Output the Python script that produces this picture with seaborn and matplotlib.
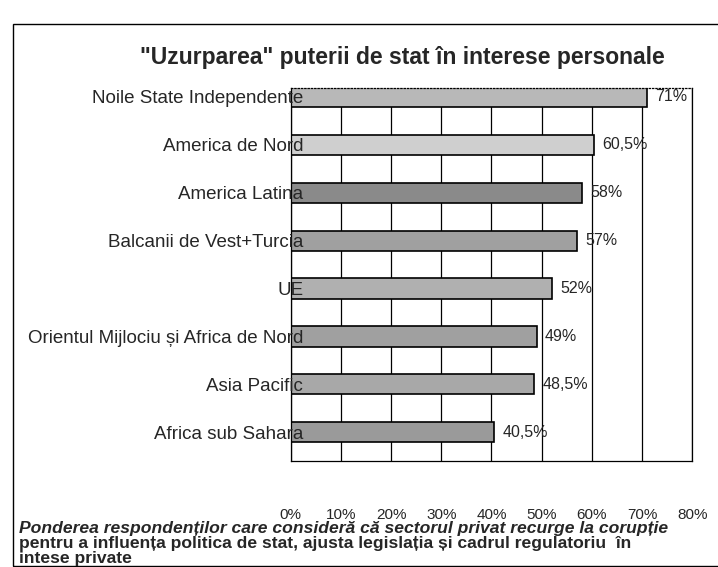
import numpy as np
import pandas as pd
import matplotlib.pyplot as plt
import matplotlib.patches as patches
from matplotlib.ticker import FuncFormatter
import seaborn as sns

regions = ['Noile State Independente', 'America de Nord', 'America Latina',
           'Balcanii de Vest+Turcia', 'UE', 'Orientul Mijlociu și Africa de Nord',
           'Asia Pacific', 'Africa sub Sahara']
values = [71, 60.5, 58, 57, 52, 49, 48.5, 40.5]
value_labels = ['71%', '60,5%', '58%', '57%', '52%', '49%', '48,5%', '40,5%']
x_ticks = [0, 10, 20, 30, 40, 50, 60, 70, 80]

title = '"Uzurparea" puterii de stat în interese personale'
note_lines = ['Ponderea respondenților care consideră că sectorul privat recurge la corupție',
              'pentru a influența politica de stat, ajusta legislația și cadrul regulatoriu  în',
              'intese private']

bar_colors = ['#b8b8b8', '#cfcfcf', '#8a8a8a', '#a0a0a0', '#b0b0b0', '#a0a0a0', '#a8a8a8', '#9a9a9a']

sns.set_style('white')
plt.rcParams['font.family'] = ['Liberation Sans', 'DejaVu Sans']

mydf = pd.DataFrame({'Region': regions, 'Value': values})

fig = plt.figure(figsize=(7.18, 5.67), dpi=100)
ax = fig.add_axes([0.405, 0.187, 0.559, 0.658])

sns.barplot(ax=ax, data=mydf, y='Region', x='Value', hue='Region', palette=bar_colors,
            legend=False, orient='h', width=0.42, edgecolor='black', linewidth=1.2,
            saturation=1)

ax.set_xlim(0, 80)
ax.set_ylim(7.6, -0.19)
ax.set_xticks(x_ticks)
ax.xaxis.set_major_formatter(FuncFormatter(lambda v, p: '%d%%' % v))
ax.grid(axis='x', color='black', linewidth=0.9)
ax.set_axisbelow(True)
ax.yaxis.set_zorder(4)
ax.set_xlabel('')
ax.set_ylabel('')
ax.tick_params(axis='x', which='major', direction='out', length=6, width=0.8,
               color='black', pad=28, labelsize=11)
ax.tick_params(axis='y', length=0, pad=-9, labelsize=13.5)
for s in ax.spines.values():
    s.set_color('black')
    s.set_linewidth(0.9)
ax.spines['top'].set_linestyle(':')

for i, (v, t) in enumerate(zip(values, value_labels)):
    ax.annotate(t, xy=(v, i), xytext=(6, 0), textcoords='offset points',
                va='center', ha='left', fontsize=11.5)

fig.text(0.56, 0.898, title, ha='center', va='center', fontsize=16.5, fontweight='bold')

# footnote, first line slanted like in the scan
note_y = [0.068, 0.041, 0.015]
for k, line in enumerate(note_lines):
    fig.text(0.026, note_y[k], line, ha='left', va='center', fontsize=12.6,
             fontweight='bold', fontstyle='italic' if k == 0 else 'normal')

fig.patches.append(patches.Rectangle((0.018, 0.002), 0.99, 0.956, transform=fig.transFigure,
                                     fill=False, edgecolor='black', linewidth=1.0))

fig.savefig('out.png', dpi=100)
plt.close()
